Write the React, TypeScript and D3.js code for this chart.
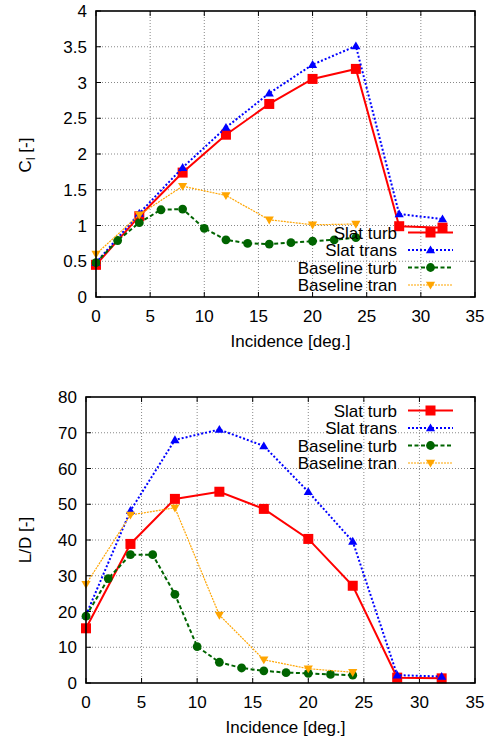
import React from "react";
import * as d3 from "d3";

// ---- Data ----
const slatX = [0, 4, 8, 12, 16, 20, 24, 28, 32];
const baseTurbX = [0, 2, 4, 6, 8, 10, 12, 14, 16, 18, 20, 22, 24];
const baseTranX = [0, 4, 8, 12, 16, 20, 24];

const clSlatTurb = [0.45, 1.13, 1.74, 2.27, 2.70, 3.05, 3.19, 0.99, 0.97];
const clSlatTrans = [0.48, 1.17, 1.81, 2.37, 2.85, 3.25, 3.51, 1.16, 1.09];
const clBaseTurb = [0.48, 0.79, 1.04, 1.22, 1.23, 0.96, 0.80, 0.75, 0.74, 0.76, 0.78, 0.80, 0.83];
const clBaseTran = [0.60, 1.15, 1.55, 1.42, 1.08, 1.01, 1.02];

const ldSlatTurb = [15.3, 38.9, 51.5, 53.5, 48.7, 40.3, 27.2, 1.5, 1.3];
const ldSlatTrans = [19.0, 48.2, 68.0, 70.9, 66.3, 53.5, 39.6, 2.2, 1.8];
const ldBaseTurb = [18.7, 29.2, 35.9, 35.9, 24.8, 10.2, 5.8, 4.2, 3.4, 2.9, 2.7, 2.4, 2.2];
const ldBaseTran = [27.6, 47.0, 49.0, 19.0, 6.5, 4.0, 3.0];

const xTicks = [0, 5, 10, 15, 20, 25, 30, 35];
const clTicks = [0, 0.5, 1, 1.5, 2, 2.5, 3, 3.5, 4];
const ldTicks = [0, 10, 20, 30, 40, 50, 60, 70, 80];

const seriesNames = ["Slat turb", "Slat trans", "Baseline turb", "Baseline tran"];

type Style = { color: string; width: number; dash: string | null; marker: string };
const styles: Style[] = [
  { color: "#ff0000", width: 2, dash: null, marker: "square" },
  { color: "#0000ff", width: 2, dash: "2,2", marker: "tri" },
  { color: "#006400", width: 2, dash: "4,2.5", marker: "circle" },
  { color: "#ffa500", width: 1.2, dash: "2,1", marker: "dtri" },
];

const FONT = "'Liberation Sans', Arial, Helvetica, sans-serif";
const FS = 17;

function Marker({ type, x, y, color }: { type: string; x: number; y: number; color: string }) {
  if (type === "square") {
    const s = 10;
    return <rect x={x - s / 2} y={y - s / 2} width={s} height={s} fill={color} />;
  }
  if (type === "circle") return <circle cx={x} cy={y} r={4.4} fill={color} />;
  if (type === "tri") {
    const p = `${x - 4.6},${y + 3.3} ${x + 4.6},${y + 3.3} ${x},${y - 4.6}`;
    return <polygon points={p} fill={color} />;
  }
  const p = `${x - 4.6},${y - 3.3} ${x + 4.6},${y - 3.3} ${x},${y + 4.6}`;
  return <polygon points={p} fill={color} />;
}

type PanelProps = {
  left: number; right: number; top: number; bottom: number;
  yMax: number; yTicks: number[];
  series: { xs: number[]; ys: number[] }[];
  legendRows: number[];
  yLabel: React.ReactNode;
  yLabelY: number;
};

function Panel(p: PanelProps) {
  const x = d3.scaleLinear().domain([0, 35]).range([p.left, p.right]);
  const y = d3.scaleLinear().domain([0, p.yMax]).range([p.bottom, p.top]);
  const line = d3.line<[number, number]>().x((d) => x(d[0])).y((d) => y(d[1]));
  const tl = 5;
  return (
    <g fontFamily={FONT} fontSize={FS} fill="#000">
      {/* grid */}
      {xTicks.slice(1, -1).map((t) => (
        <line key={"gx" + t} x1={x(t)} x2={x(t)} y1={p.top} y2={p.bottom} stroke="#888" strokeWidth={1} strokeDasharray="1,2" />
      ))}
      {p.yTicks.slice(1, -1).map((t) => (
        <line key={"gy" + t} x1={p.left} x2={p.right} y1={y(t)} y2={y(t)} stroke="#888" strokeWidth={1} strokeDasharray="1,2" />
      ))}
      {/* ticks */}
      {xTicks.map((t) => (
        <g key={"tx" + t}>
          <line x1={x(t)} x2={x(t)} y1={p.bottom} y2={p.bottom - tl} stroke="#000" strokeWidth={1} />
          <line x1={x(t)} x2={x(t)} y1={p.top} y2={p.top + tl} stroke="#000" strokeWidth={1} />
          <text x={x(t)} y={p.bottom + 25} textAnchor="middle">{t}</text>
        </g>
      ))}
      {p.yTicks.map((t) => (
        <g key={"ty" + t}>
          <line x1={p.left} x2={p.left + tl} y1={y(t)} y2={y(t)} stroke="#000" strokeWidth={1} />
          <line x1={p.right} x2={p.right - tl} y1={y(t)} y2={y(t)} stroke="#000" strokeWidth={1} />
          <text x={p.left - 9} y={y(t)} dy="0.36em" textAnchor="end">{t}</text>
        </g>
      ))}
      {/* series */}
      {p.series.map((s, i) => {
        const st = styles[i];
        const pts = s.xs.map((v, j) => [v, s.ys[j]] as [number, number]);
        return (
          <g key={"s" + i}>
            <path d={line(pts) || ""} fill="none" stroke={st.color} strokeWidth={st.width} strokeDasharray={st.dash || undefined} />
            {pts.map((d, j) => (
              <Marker key={j} type={st.marker} x={x(d[0])} y={y(d[1])} color={st.color} />
            ))}
          </g>
        );
      })}
      {/* border */}
      <rect x={p.left} y={p.top} width={p.right - p.left} height={p.bottom - p.top} fill="none" stroke="#000" strokeWidth={1.6} />
      {/* legend */}
      {seriesNames.map((n, i) => {
        const st = styles[i];
        const ry = p.legendRows[i];
        return (
          <g key={"l" + i}>
            <text x={397} y={ry} dy="0.36em" textAnchor="end">{n}</text>
            <line x1={408} x2={453} y1={ry} y2={ry} stroke={st.color} strokeWidth={st.width} strokeDasharray={st.dash || undefined} />
            <Marker type={st.marker} x={430.5} y={ry} color={st.color} />
          </g>
        );
      })}
      {/* axis labels */}
      <text x={(p.left + p.right) / 2 + 5} y={p.bottom + 50} textAnchor="middle">Incidence [deg.]</text>
      <text transform={`translate(31,${p.yLabelY}) rotate(-90)`} textAnchor="middle">{p.yLabel}</text>
    </g>
  );
}

export default function App() {
  return (
    <div style={{ position: "absolute", left: 0, top: 0 }}>
      <svg width={491} height={740} style={{ display: "block", background: "#fff" }}>
        <Panel
          left={96} right={475} top={11} bottom={297}
          yMax={4} yTicks={clTicks}
          series={[
            { xs: slatX, ys: clSlatTurb },
            { xs: slatX, ys: clSlatTrans },
            { xs: baseTurbX, ys: clBaseTurb },
            { xs: baseTranX, ys: clBaseTran },
          ]}
          legendRows={[232.5, 250, 267.5, 285]}
          yLabel={<>C<tspan fontSize={12} dy="4">l</tspan><tspan dy="-4"> [-]</tspan></>}
          yLabelY={155}
        />
        <Panel
          left={86} right={475} top={397} bottom={683}
          yMax={80} yTicks={ldTicks}
          series={[
            { xs: slatX, ys: ldSlatTurb },
            { xs: slatX, ys: ldSlatTrans },
            { xs: baseTurbX, ys: ldBaseTurb },
            { xs: baseTranX, ys: ldBaseTran },
          ]}
          legendRows={[410.5, 428, 445.5, 463]}
          yLabel={"L/D [-]"}
          yLabelY={540}
        />
      </svg>
    </div>
  );
}
